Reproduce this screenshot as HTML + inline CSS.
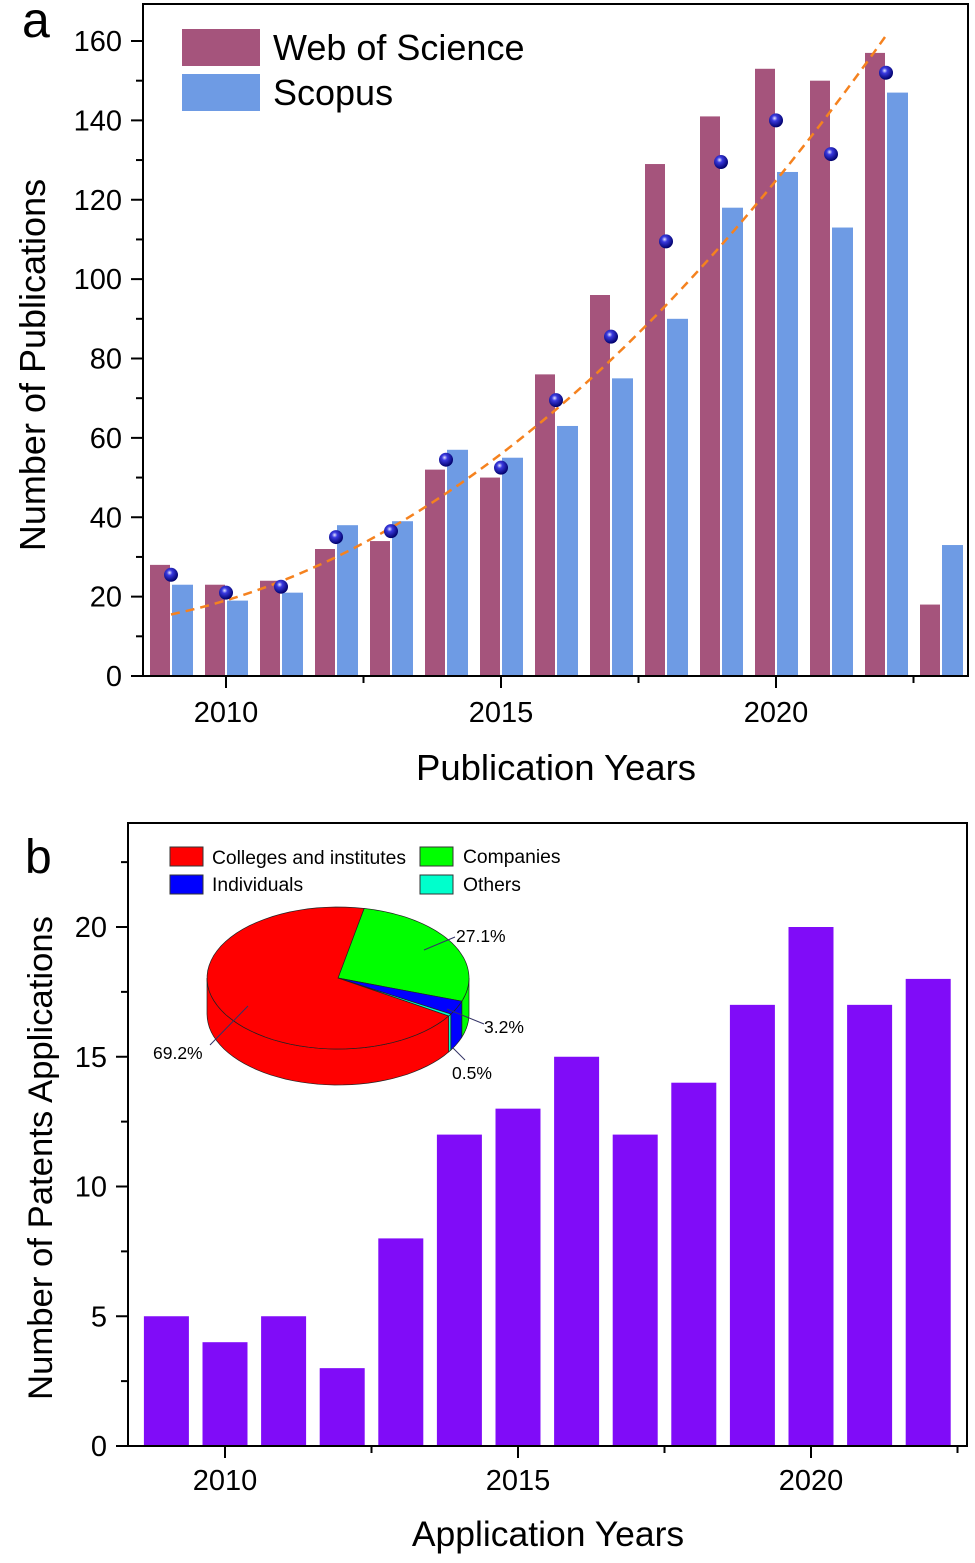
<!DOCTYPE html>
<html><head><meta charset="utf-8">
<style>
body{margin:0;background:#fff;}
svg{display:block;font-family:"Liberation Sans",sans-serif;}
</style></head>
<body>
<svg id="fig" width="975" height="1563" viewBox="0 0 975 1563" xmlns="http://www.w3.org/2000/svg">
<defs>
<radialGradient id="ball" cx="0.4" cy="0.35" r="0.65">
<stop offset="0" stop-color="#e8e8ff"/><stop offset="0.3" stop-color="#3a3ae0"/><stop offset="1" stop-color="#00006a"/>
</radialGradient>
</defs>
<g id="panelA"></g>
<g id="panelB"></g>
</svg>
<script>
// ---- Panel a data ----
const yearsA = [2009,2010,2011,2012,2013,2014,2015,2016,2017,2018,2019,2020,2021,2022,2023];
const wosValues = [28,23,24,32,34,52,50,76,96,129,141,153,150,157,18];
const scopusValues = [23,19,21,38,39,57,55,63,75,90,118,127,113,147,33];
const avgYears = [2009,2010,2011,2012,2013,2014,2015,2016,2017,2018,2019,2020,2021,2022];
const avgValues = [25.5,21,22.5,35,36.5,54.5,52.5,69.5,85.5,109.5,129.5,140,131.5,152];
const fitCoef = [15.5,2.9,0.64]; // a + b t + c t^2, t = year-2009
const yTicksA = [0,20,40,60,80,100,120,140,160];
const xTicksA = [2010,2015,2020];
// ---- Panel b data ----
const yearsB = [2009,2010,2011,2012,2013,2014,2015,2016,2017,2018,2019,2020,2021,2022];
const patentValues = [5,4,5,3,8,12,13,15,12,14,17,20,17,18];
const yTicksB = [0,5,10,15,20];
const xTicksB = [2010,2015,2020];
const pieLabels = ["Companies","Individuals","Others","Colleges and institutes"];
const pieValues = [27.1,3.2,0.5,69.2];
const pieColors = ["#00ff00","#0000ff","#00ffcc","#ff0000"];

const NS="http://www.w3.org/2000/svg";
function mk(parent,tag,attrs,text){const e=document.createElementNS(NS,tag);for(const k in attrs)e.setAttribute(k,attrs[k]);if(text!==undefined)e.textContent=text;parent.appendChild(e);return e;}

// ===== Panel a =====
const A=document.getElementById('panelA');
const xA=y=>226+(y-2010)*55;
const yA=v=>676-v*(635/160);
const bwA=21;
wosValues.forEach((v,i)=>{
  const r=mk(A,'rect',{x:xA(yearsA[i])-bwA,y:yA(v),width:bwA-1,height:676-yA(v),fill:'#a5547c'});
  
  
});
scopusValues.forEach((v,i)=>{
  const r=mk(A,'rect',{x:xA(yearsA[i])+1,y:yA(v),width:bwA,height:676-yA(v),fill:'#6e9be4'});
  
  
});
let d='';
for(let t=0;t<=13.01;t+=0.25){const v=fitCoef[0]+fitCoef[1]*t+fitCoef[2]*t*t;d+=(t===0?'M':'L')+xA(2009+t).toFixed(1)+','+yA(v).toFixed(1);}
const fit=mk(A,'path',{d:d,fill:'none',stroke:'#f5821f','stroke-width':2.5,'stroke-dasharray':'9,6'});


avgValues.forEach((v,i)=>{
  const c=mk(A,'circle',{cx:xA(avgYears[i]),cy:yA(v),r:7,fill:'url(#ball)'});
  
  
});
const fA=mk(A,'rect',{x:143,y:4,width:825,height:672,fill:'none',stroke:'#000','stroke-width':2});


for(let v=0;v<=160;v+=10){const major=v%20===0;mk(A,'line',{x1:143,x2:major?131:136,y1:yA(v),y2:yA(v),stroke:'#000','stroke-width':2});}
yTicksA.forEach(v=>{const t=mk(A,'text',{x:122,y:yA(v)+10,'text-anchor':'end','font-size':29},String(v));
  
  });
for(let y=2010;y<=2022.5;y+=2.5){const major=(y%5===0);mk(A,'line',{x1:xA(y),x2:xA(y),y1:676,y2:major?688:683,stroke:'#000','stroke-width':2});}
xTicksA.forEach(y=>{const t=mk(A,'text',{x:xA(y),y:722,'text-anchor':'middle','font-size':29},String(y));
  
  });
</script>
<script>
(function(){
const A=document.getElementById('panelA');
const h=`
<text x="22" y="37" font-size="50">a</text>
<text transform="translate(45,365) rotate(-90)" text-anchor="middle" font-size="36">Number of Publications</text>
<text x="556" y="780" text-anchor="middle" font-size="36.5">Publication Years</text>
<g>
<rect x="182" y="29" width="78" height="37" fill="#a5547c"/>
<text x="273" y="60" font-size="36">Web of Science</text>
<rect x="182" y="74" width="78" height="37" fill="#6e9be4"/>
<text x="273" y="105" font-size="36">Scopus</text>
</g>`;
A.insertAdjacentHTML('beforeend',h);
})();
</script>
<script>
// ===== Panel b =====
const B=document.getElementById('panelB');
const xB=y=>225+(y-2010)*58.6;
const yB=v=>1446-v*(519/20);
patentValues.forEach((v,i)=>{
  const r=mk(B,'rect',{x:xB(yearsB[i])-22.5,y:yB(v),width:45,height:1446-yB(v),fill:'#800cf8'});
  
  
});
const fB=mk(B,'rect',{x:128,y:823,width:839,height:623,fill:'none',stroke:'#000','stroke-width':2});


for(let v=0;v<=22.5;v+=2.5){const major=v%5===0;mk(B,'line',{x1:128,x2:major?116:121,y1:yB(v),y2:yB(v),stroke:'#000','stroke-width':2});}
yTicksB.forEach(v=>{const t=mk(B,'text',{x:107,y:yB(v)+10,'text-anchor':'end','font-size':29},String(v));
  
  });
for(let y=2010;y<=2022.5;y+=2.5){const major=(y%5===0);mk(B,'line',{x1:xB(y),x2:xB(y),y1:1446,y2:major?1458:1453,stroke:'#000','stroke-width':2});}
xTicksB.forEach(y=>{const t=mk(B,'text',{x:xB(y),y:1490,'text-anchor':'middle','font-size':29},String(y));
  
  });

const P=mk(B,'g',{});


const cx=338,cy=978,rx=131,ry=71,dep=36;
const pt=(t,dy)=>[cx+rx*Math.cos(t*Math.PI/180),cy+(dy||0)+ry*Math.sin(t*Math.PI/180)];
const total=pieValues.reduce((a,b)=>a+b,0);
let ang=-78.5;const slices=[];
pieValues.forEach((v,i)=>{const a1=ang+v/total*360;slices.push([ang,a1]);ang=a1;});
slices.forEach((s,i)=>{
  const a0=s[0],a1=s[1];
  const ranges=[[Math.max(a0,0),Math.min(a1,180)],[Math.max(a0,360),Math.min(a1,540)]];
  ranges.forEach(([lo,hi])=>{
    if(hi<=lo)return;
    let p='';const st=[];
    for(let t=lo;t<=hi+0.001;t+=Math.max((hi-lo)/40,0.2))st.push(Math.min(t,hi));
    st.forEach((t,k)=>{const q=pt(t);p+=(k?'L':'M')+q[0].toFixed(1)+','+q[1].toFixed(1);});
    st.slice().reverse().forEach(t=>{const q=pt(t,dep);p+='L'+q[0].toFixed(1)+','+q[1].toFixed(1);});
    const w=mk(P,'path',{d:p+'Z',fill:pieColors[i],stroke:'#222','stroke-width':0.7});
    
    
  });
});
slices.forEach((s,i)=>{
  let p=`M${cx},${cy}`;
  for(let t=s[0];t<=s[1]+0.001;t+=Math.max((s[1]-s[0])/60,0.2)){const q=pt(Math.min(t,s[1]));p+='L'+q[0].toFixed(1)+','+q[1].toFixed(1);}
  const f=mk(P,'path',{d:p+'Z',fill:pieColors[i],stroke:'#222','stroke-width':0.7});
  
  
});
</script>
<script>
(function(){
const B=document.getElementById('panelB');
const h=`
<text x="25" y="873" font-size="48">b</text>
<text transform="translate(52,1158) rotate(-90)" text-anchor="middle" font-size="34.7">Number of Patents Applications</text>
<text x="548" y="1546" text-anchor="middle" font-size="35.5">Application Years</text>
<g font-size="19.3">
<rect x="170" y="847" width="33" height="19" fill="#ff0000" stroke="#333"/>
<text x="212" y="864">Colleges and institutes</text>
<rect x="420" y="847" width="33" height="19" fill="#00ff00" stroke="#333"/>
<text x="463" y="863">Companies</text>
<rect x="170" y="875" width="33" height="19" fill="#0000ff" stroke="#333"/>
<text x="212" y="891">Individuals</text>
<rect x="420" y="875" width="33" height="19" fill="#00ffcc" stroke="#333"/>
<text x="463" y="891">Others</text>
</g>
<g font-size="17.5" stroke-width="1">
<line x1="424" y1="950" x2="455" y2="937" stroke="#336"/>
<text x="456" y="942">27.1%</text>
<line x1="447" y1="1009" x2="484" y2="1024" stroke="#336"/>
<text x="484" y="1033">3.2%</text>
<line x1="453" y1="1048" x2="465" y2="1060" stroke="#336"/>
<text x="452" y="1079">0.5%</text>
<line x1="248" y1="1006" x2="210" y2="1045" stroke="#336"/>
<text x="153" y="1059">69.2%</text>
</g>`;
B.insertAdjacentHTML('beforeend',h);
})();
</script>
</body></html>
